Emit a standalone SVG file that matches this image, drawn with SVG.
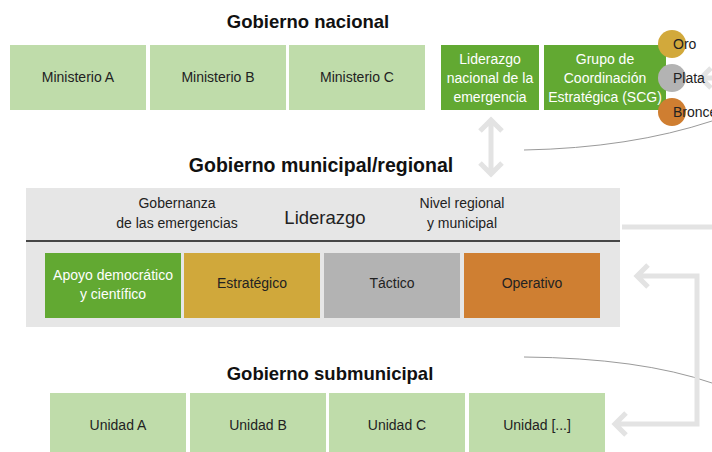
<svg xmlns="http://www.w3.org/2000/svg" width="712" height="452" viewBox="0 0 712 452">
<style>
text{font-family:"Liberation Sans",Arial,sans-serif;font-size:14px;fill:#222;text-anchor:middle}
.t{font-weight:bold;font-size:18.5px;fill:#111}
.w{fill:#fff}
.lt{fill:#bfdcaa}
.dk{fill:#62a932}
.arr{fill:none;stroke:#e3e3e3;stroke-width:5}
.cur{fill:none;stroke:#9a9a9a;stroke-width:1}
.lc{text-anchor:start}
</style>
<rect width="712" height="452" fill="#fff"/>
<g id="connectors">
<path class="cur" d="M524,150 Q630,148 712,121"/>
<path class="cur" d="M524,357 Q640,358 712,383"/>
<path class="arr" d="M491,120 V174 M480,131 L491,120 L502,131 M480,163 L491,174 L502,163"/>
<path class="arr" d="M700,78 H712 M711,68 L701,78 L711,88"/>
<path class="arr" d="M622,227 H712"/>
<path class="arr" d="M638,276 H697 V424 H615 M648,265 L637,276 L648,287 M626,413 L615,424 L626,435"/>
</g>
<g id="titulo-nacional"><text class="t" x="308" y="28">Gobierno nacional</text></g>
<g id="ministerio-a"><rect class="lt" x="10" y="45" width="136" height="65"/><text x="78" y="82">Ministerio A</text></g>
<g id="ministerio-b"><rect class="lt" x="150" y="45" width="136" height="65"/><text x="218" y="82">Ministerio B</text></g>
<g id="ministerio-c"><rect class="lt" x="289" y="45" width="136" height="65"/><text x="357" y="82">Ministerio C</text></g>
<g id="liderazgo-nacional"><rect class="dk" x="441" y="45" width="98" height="65"/>
<text class="w" x="490" y="64">Liderazgo</text><text class="w" x="490" y="83">nacional de la</text><text class="w" x="490" y="102">emergencia</text></g>
<g id="scg"><rect class="dk" x="544" y="45" width="122" height="65"/>
<text class="w" x="605" y="64">Grupo de</text><text class="w" x="605" y="83">Coordinación</text><text class="w" x="605" y="102">Estratégica (SCG)</text></g>
<g id="oro"><circle cx="672" cy="44" r="14" fill="#d2a93b"/><text class="lc" x="673" y="49">Oro</text></g>
<g id="plata"><circle cx="672" cy="78" r="14" fill="#b3b3b3"/><text class="lc" x="673" y="83">Plata</text></g>
<g id="bronce"><circle cx="672" cy="112" r="14" fill="#cf7e31"/><text class="lc" x="673" y="117">Bronce</text></g>
<g id="titulo-municipal"><text class="t" x="321" y="172" style="font-size:19.5px">Gobierno municipal/regional</text></g>
<g id="panel-municipal"><rect x="26" y="188" width="594" height="139" fill="#e6e6e6"/>
<line x1="26" y1="241" x2="620" y2="241" stroke="#111" stroke-width="1.5"/>
<text x="177" y="208">Gobernanza</text><text x="177" y="228">de las emergencias</text>
<text x="325" y="224" style="font-size:18.5px">Liderazgo</text>
<text x="462" y="208">Nivel regional</text><text x="462" y="228">y municipal</text></g>
<g id="apoyo"><rect class="dk" x="45" y="253" width="136" height="65"/><text class="w" x="113" y="280">Apoyo democrático</text><text class="w" x="113" y="299">y científico</text></g>
<g id="estrategico"><rect x="184" y="253" width="136" height="65" fill="#d0a83b"/><text x="252" y="288">Estratégico</text></g>
<g id="tactico"><rect x="324" y="253" width="136" height="65" fill="#b3b3b3"/><text x="392" y="288">Táctico</text></g>
<g id="operativo"><rect x="464" y="253" width="136" height="65" fill="#cf7f32"/><text x="532" y="288">Operativo</text></g>
<g id="titulo-submunicipal"><text class="t" x="330" y="380">Gobierno submunicipal</text></g>
<g id="unidad-a"><rect class="lt" x="50" y="393" width="136" height="65"/><text x="118" y="430">Unidad A</text></g>
<g id="unidad-b"><rect class="lt" x="190" y="393" width="136" height="65"/><text x="258" y="430">Unidad B</text></g>
<g id="unidad-c"><rect class="lt" x="329" y="393" width="136" height="65"/><text x="397" y="430">Unidad C</text></g>
<g id="unidad-d"><rect class="lt" x="469" y="393" width="136" height="65"/><text x="537" y="430">Unidad [...]</text></g>
</svg>
